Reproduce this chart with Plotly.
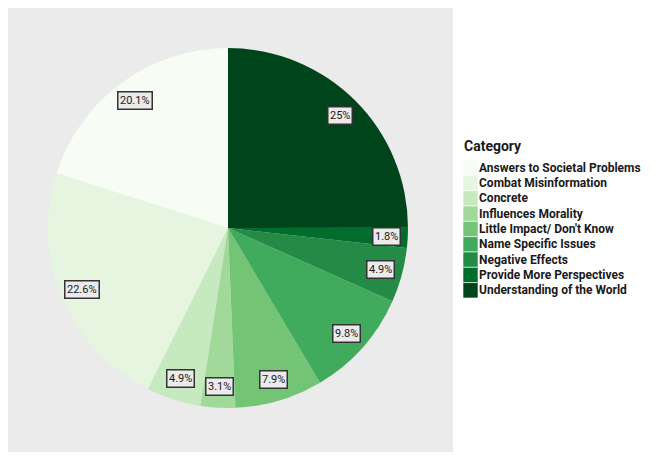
import math
import plotly.graph_objects as go

categories = [
    "Answers to Societal Problems",
    "Combat Misinformation",
    "Concrete",
    "Influences Morality",
    "Little Impact/ Don't Know",
    "Name Specific Issues",
    "Negative Effects",
    "Provide More Perspectives",
    "Understanding of the World",
]
percent = [20.1, 22.6, 4.9, 3.1, 7.9, 9.8, 4.9, 1.8, 25.0]
colors = ["#f7fcf5", "#e5f5e0", "#c7e9c0", "#a1d99b", "#74c476",
          "#41ab5d", "#238b45", "#006d2c", "#00441b"]
label_text = ["20.1%", "22.6%", "4.9%", "3.1%", "7.9%", "9.8%", "4.9%", "1.8%", "25%"]
legend_title = "Category"

OFF = 8                      # browser body margin
W, H = 651 - OFF, 455 - OFF  # figure size
ml, mt = 0, 0
mr = W - (453 - OFF)
mb = H - (452 - OFF)
pw, ph = W - ml - mr, H - mt - mb

def s2p(xs, ys):
    """screen pixel -> paper coordinates"""
    xf, yf = xs - OFF, ys - OFF
    return (xf - ml) / pw, (H - mb - yf) / ph

# pie geometry (screen pixels)
cx, cy, R = 228, 228, 180
x0p, y1p = s2p(cx - R, cy - R)
x1p, y0p = s2p(cx + R, cy + R)

total = sum(percent)
fig = go.Figure(go.Pie(
    labels=categories,
    values=percent,
    marker=dict(colors=colors, line=dict(width=0)),
    sort=False,
    direction="counterclockwise",
    rotation=-360 * percent[0] / total,
    textinfo="none",
    hoverinfo="label+percent",
    domain=dict(x=[x0p, x1p], y=[y0p, y1p]),
    showlegend=False,
))

font_fam = "Roboto, Arial, sans-serif"
annotations = []
shapes = [dict(type="rect", xref="paper", yref="paper", x0=0, x1=1, y0=0, y1=1,
               fillcolor="#ebebeb", line=dict(width=0), layer="below")]

# label boxes at mid-angle of each slice (counterclockwise from 12 o'clock)
cum = 0.0
for v, t in zip(percent, label_text):
    mid = (cum + v / 2) / total
    cum += v
    th = 2 * math.pi * mid
    rr = 0.88 * R
    xa = cx - rr * math.sin(th)
    ya = cy - rr * math.cos(th)
    xp, yp = s2p(xa, ya)
    annotations.append(dict(
        x=xp, y=yp, xref="paper", yref="paper",
        text=t, showarrow=False,
        font=dict(family=font_fam, size=11, color="#1a1a1a"),
        bgcolor="#ebebeb", bordercolor="#333333", borderwidth=1.5, borderpad=1.5,
        xanchor="center", yanchor="middle",
    ))

# legend (ggplot-style keys)
key_x0, key_x1, key_top, key_h = 463, 478, 160, 15.33
tx, ty = s2p(462, 146)
annotations.append(dict(x=tx, y=ty, xref="paper", yref="paper", text="<b>%s</b>" % legend_title,
                        showarrow=False, xanchor="left", yanchor="middle",
                        font=dict(family=font_fam, size=14, color="#1a1a1a")))
for i, (cat, col) in enumerate(zip(categories, colors)):
    top = key_top + i * key_h
    a0, b1 = s2p(key_x0, top)
    a1, b0 = s2p(key_x1, top + key_h)
    shapes.append(dict(type="rect", xref="paper", yref="paper", x0=a0, x1=a1, y0=b0, y1=b1,
                       fillcolor=col, line=dict(width=0.6, color="white")))
    lx, ly = s2p(key_x1 - 1, top + key_h / 2)
    annotations.append(dict(x=lx, y=ly, xref="paper", yref="paper", text="<b>%s</b>" % cat,
                            showarrow=False, xanchor="left", yanchor="middle",
                            font=dict(family=font_fam, size=12, color="#1a1a1a")))

fig.update_layout(
    width=W, height=H,
    margin=dict(l=ml, r=mr, t=mt, b=mb, autoexpand=False),
    paper_bgcolor="white",
    plot_bgcolor="white",
    shapes=shapes,
    annotations=annotations,
    showlegend=False,
)

fig.write_html("out.html")
